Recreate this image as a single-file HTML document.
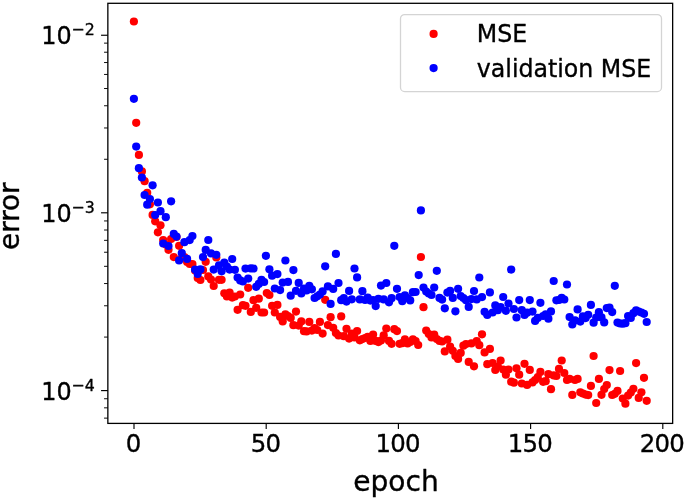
<!DOCTYPE html>
<html lang="en">
<head>
<meta charset="utf-8">
<title>MSE vs epoch</title>
<style>
html,body{margin:0;padding:0;background:#fff;}
body{width:685px;height:501px;overflow:hidden;}
svg{display:block;}
text{font-family:"DejaVu Sans","Liberation Sans",sans-serif;fill:#000;stroke:#000;stroke-width:0.35px;stroke-linejoin:round;}
</style>
</head>
<body>
<svg width="685" height="501" viewBox="0 0 685 501">
<rect x="0" y="0" width="685" height="501" fill="#ffffff"/>
<g fill="#ff0000">
<circle cx="133.9" cy="21.5" r="4.10"/>
<circle cx="136.2" cy="122.8" r="4.10"/>
<circle cx="138.9" cy="154.9" r="4.10"/>
<circle cx="141.9" cy="171.4" r="4.10"/>
<circle cx="144.6" cy="181.2" r="4.10"/>
<circle cx="147.2" cy="192.8" r="4.10"/>
<circle cx="149.9" cy="204.3" r="4.10"/>
<circle cx="152.6" cy="214.9" r="4.10"/>
<circle cx="155.2" cy="221.3" r="4.10"/>
<circle cx="157.9" cy="232.3" r="4.10"/>
<circle cx="160.5" cy="225.3" r="4.10"/>
<circle cx="163.2" cy="240.0" r="4.10"/>
<circle cx="165.8" cy="244.5" r="4.10"/>
<circle cx="168.5" cy="249.8" r="4.10"/>
<circle cx="171.1" cy="239.0" r="4.10"/>
<circle cx="173.8" cy="257.1" r="4.10"/>
<circle cx="176.5" cy="237.0" r="4.10"/>
<circle cx="179.1" cy="245.8" r="4.10"/>
<circle cx="181.8" cy="258.0" r="4.10"/>
<circle cx="184.4" cy="257.0" r="4.10"/>
<circle cx="187.1" cy="262.0" r="4.10"/>
<circle cx="189.7" cy="264.0" r="4.10"/>
<circle cx="192.4" cy="264.0" r="4.10"/>
<circle cx="195.1" cy="270.5" r="4.10"/>
<circle cx="197.7" cy="278.0" r="4.10"/>
<circle cx="200.4" cy="280.0" r="4.10"/>
<circle cx="203.0" cy="270.0" r="4.10"/>
<circle cx="205.7" cy="261.8" r="4.10"/>
<circle cx="208.3" cy="276.4" r="4.10"/>
<circle cx="211.0" cy="279.6" r="4.10"/>
<circle cx="213.7" cy="286.0" r="4.10"/>
<circle cx="216.3" cy="257.5" r="4.10"/>
<circle cx="219.0" cy="279.8" r="4.10"/>
<circle cx="221.6" cy="279.8" r="4.10"/>
<circle cx="224.3" cy="293.3" r="4.10"/>
<circle cx="226.9" cy="296.4" r="4.10"/>
<circle cx="229.6" cy="292.6" r="4.10"/>
<circle cx="232.2" cy="297.6" r="4.10"/>
<circle cx="234.9" cy="296.5" r="4.10"/>
<circle cx="237.6" cy="309.8" r="4.10"/>
<circle cx="240.2" cy="294.5" r="4.10"/>
<circle cx="242.9" cy="305.2" r="4.10"/>
<circle cx="245.5" cy="305.8" r="4.10"/>
<circle cx="248.2" cy="287.8" r="4.10"/>
<circle cx="250.8" cy="311.9" r="4.10"/>
<circle cx="253.5" cy="300.2" r="4.10"/>
<circle cx="256.2" cy="307.8" r="4.10"/>
<circle cx="258.8" cy="298.7" r="4.10"/>
<circle cx="261.5" cy="312.5" r="4.10"/>
<circle cx="264.1" cy="312.5" r="4.10"/>
<circle cx="266.8" cy="293.0" r="4.10"/>
<circle cx="269.4" cy="295.0" r="4.10"/>
<circle cx="272.1" cy="305.8" r="4.10"/>
<circle cx="274.8" cy="312.5" r="4.10"/>
<circle cx="277.4" cy="304.9" r="4.10"/>
<circle cx="280.1" cy="316.9" r="4.10"/>
<circle cx="282.7" cy="321.4" r="4.10"/>
<circle cx="285.4" cy="314.4" r="4.10"/>
<circle cx="288.0" cy="316.0" r="4.10"/>
<circle cx="290.7" cy="317.9" r="4.10"/>
<circle cx="293.4" cy="325.2" r="4.10"/>
<circle cx="296.0" cy="311.6" r="4.10"/>
<circle cx="298.7" cy="325.6" r="4.10"/>
<circle cx="301.3" cy="321.4" r="4.10"/>
<circle cx="304.0" cy="331.2" r="4.10"/>
<circle cx="306.6" cy="331.4" r="4.10"/>
<circle cx="309.3" cy="321.9" r="4.10"/>
<circle cx="311.9" cy="330.6" r="4.10"/>
<circle cx="314.6" cy="328.0" r="4.10"/>
<circle cx="317.3" cy="330.0" r="4.10"/>
<circle cx="319.9" cy="321.9" r="4.10"/>
<circle cx="322.6" cy="333.6" r="4.10"/>
<circle cx="325.2" cy="299.8" r="4.10"/>
<circle cx="327.9" cy="325.1" r="4.10"/>
<circle cx="330.6" cy="317.2" r="4.10"/>
<circle cx="333.2" cy="327.8" r="4.10"/>
<circle cx="335.9" cy="333.0" r="4.10"/>
<circle cx="338.5" cy="335.5" r="4.10"/>
<circle cx="341.2" cy="316.4" r="4.10"/>
<circle cx="343.8" cy="336.2" r="4.10"/>
<circle cx="346.5" cy="328.8" r="4.10"/>
<circle cx="349.1" cy="338.6" r="4.10"/>
<circle cx="351.8" cy="333.7" r="4.10"/>
<circle cx="354.5" cy="337.4" r="4.10"/>
<circle cx="357.1" cy="331.0" r="4.10"/>
<circle cx="359.8" cy="340.3" r="4.10"/>
<circle cx="362.4" cy="339.1" r="4.10"/>
<circle cx="365.1" cy="338.0" r="4.10"/>
<circle cx="367.7" cy="336.8" r="4.10"/>
<circle cx="370.4" cy="340.9" r="4.10"/>
<circle cx="373.1" cy="334.5" r="4.10"/>
<circle cx="375.7" cy="340.9" r="4.10"/>
<circle cx="378.4" cy="342.1" r="4.10"/>
<circle cx="381.0" cy="340.5" r="4.10"/>
<circle cx="383.7" cy="335.4" r="4.10"/>
<circle cx="386.3" cy="328.6" r="4.10"/>
<circle cx="389.0" cy="340.9" r="4.10"/>
<circle cx="391.6" cy="343.8" r="4.10"/>
<circle cx="394.3" cy="329.2" r="4.10"/>
<circle cx="397.0" cy="331.1" r="4.10"/>
<circle cx="399.6" cy="343.8" r="4.10"/>
<circle cx="402.3" cy="343.2" r="4.10"/>
<circle cx="404.9" cy="339.4" r="4.10"/>
<circle cx="407.6" cy="343.5" r="4.10"/>
<circle cx="410.2" cy="342.0" r="4.10"/>
<circle cx="412.9" cy="339.4" r="4.10"/>
<circle cx="415.6" cy="341.0" r="4.10"/>
<circle cx="418.2" cy="345.0" r="4.10"/>
<circle cx="420.9" cy="257.0" r="4.10"/>
<circle cx="423.5" cy="307.2" r="4.10"/>
<circle cx="426.2" cy="330.6" r="4.10"/>
<circle cx="428.8" cy="334.0" r="4.10"/>
<circle cx="431.5" cy="337.4" r="4.10"/>
<circle cx="434.2" cy="334.5" r="4.10"/>
<circle cx="436.8" cy="339.0" r="4.10"/>
<circle cx="439.5" cy="340.9" r="4.10"/>
<circle cx="442.1" cy="341.5" r="4.10"/>
<circle cx="444.8" cy="351.4" r="4.10"/>
<circle cx="447.4" cy="339.7" r="4.10"/>
<circle cx="450.1" cy="346.7" r="4.10"/>
<circle cx="452.8" cy="350.8" r="4.10"/>
<circle cx="455.4" cy="356.1" r="4.10"/>
<circle cx="458.1" cy="358.9" r="4.10"/>
<circle cx="460.7" cy="352.9" r="4.10"/>
<circle cx="463.4" cy="345.7" r="4.10"/>
<circle cx="466.0" cy="344.1" r="4.10"/>
<circle cx="468.7" cy="361.9" r="4.10"/>
<circle cx="471.4" cy="343.4" r="4.10"/>
<circle cx="474.0" cy="366.3" r="4.10"/>
<circle cx="476.7" cy="341.0" r="4.10"/>
<circle cx="479.3" cy="345.2" r="4.10"/>
<circle cx="482.0" cy="334.3" r="4.10"/>
<circle cx="484.6" cy="352.4" r="4.10"/>
<circle cx="487.3" cy="364.2" r="4.10"/>
<circle cx="489.9" cy="348.9" r="4.10"/>
<circle cx="492.6" cy="363.0" r="4.10"/>
<circle cx="495.3" cy="370.0" r="4.10"/>
<circle cx="497.9" cy="366.5" r="4.10"/>
<circle cx="500.6" cy="360.5" r="4.10"/>
<circle cx="503.2" cy="369.5" r="4.10"/>
<circle cx="505.9" cy="374.7" r="4.10"/>
<circle cx="508.5" cy="369.5" r="4.10"/>
<circle cx="511.2" cy="381.7" r="4.10"/>
<circle cx="513.9" cy="382.7" r="4.10"/>
<circle cx="516.5" cy="368.3" r="4.10"/>
<circle cx="519.2" cy="374.7" r="4.10"/>
<circle cx="521.8" cy="383.5" r="4.10"/>
<circle cx="524.5" cy="363.8" r="4.10"/>
<circle cx="527.1" cy="384.9" r="4.10"/>
<circle cx="529.8" cy="369.9" r="4.10"/>
<circle cx="532.5" cy="382.4" r="4.10"/>
<circle cx="535.1" cy="380.0" r="4.10"/>
<circle cx="537.8" cy="377.1" r="4.10"/>
<circle cx="540.4" cy="371.9" r="4.10"/>
<circle cx="543.1" cy="381.8" r="4.10"/>
<circle cx="545.7" cy="381.2" r="4.10"/>
<circle cx="548.4" cy="374.2" r="4.10"/>
<circle cx="551.0" cy="389.2" r="4.10"/>
<circle cx="553.7" cy="375.4" r="4.10"/>
<circle cx="556.4" cy="376.0" r="4.10"/>
<circle cx="559.0" cy="368.9" r="4.10"/>
<circle cx="561.7" cy="360.5" r="4.10"/>
<circle cx="564.3" cy="373.0" r="4.10"/>
<circle cx="567.0" cy="380.0" r="4.10"/>
<circle cx="569.6" cy="378.9" r="4.10"/>
<circle cx="572.3" cy="394.9" r="4.10"/>
<circle cx="575.0" cy="380.0" r="4.10"/>
<circle cx="577.6" cy="378.9" r="4.10"/>
<circle cx="580.3" cy="392.3" r="4.10"/>
<circle cx="582.9" cy="393.5" r="4.10"/>
<circle cx="585.6" cy="394.6" r="4.10"/>
<circle cx="588.2" cy="395.1" r="4.10"/>
<circle cx="590.9" cy="385.9" r="4.10"/>
<circle cx="593.6" cy="356.0" r="4.10"/>
<circle cx="596.2" cy="403.0" r="4.10"/>
<circle cx="598.9" cy="378.9" r="4.10"/>
<circle cx="601.5" cy="394.8" r="4.10"/>
<circle cx="604.2" cy="389.0" r="4.10"/>
<circle cx="606.8" cy="385.0" r="4.10"/>
<circle cx="609.5" cy="370.1" r="4.10"/>
<circle cx="612.2" cy="395.0" r="4.10"/>
<circle cx="614.8" cy="393.8" r="4.10"/>
<circle cx="617.5" cy="390.9" r="4.10"/>
<circle cx="620.1" cy="371.0" r="4.10"/>
<circle cx="622.8" cy="398.5" r="4.10"/>
<circle cx="625.4" cy="403.7" r="4.10"/>
<circle cx="628.1" cy="395.6" r="4.10"/>
<circle cx="630.8" cy="392.6" r="4.10"/>
<circle cx="633.4" cy="388.8" r="4.10"/>
<circle cx="636.1" cy="363.1" r="4.10"/>
<circle cx="638.7" cy="397.9" r="4.10"/>
<circle cx="641.4" cy="392.3" r="4.10"/>
<circle cx="644.0" cy="377.8" r="4.10"/>
<circle cx="646.7" cy="400.8" r="4.10"/>
</g>
<g fill="#0000ff">
<circle cx="133.9" cy="98.8" r="4.10"/>
<circle cx="136.2" cy="146.6" r="4.10"/>
<circle cx="138.9" cy="168.2" r="4.10"/>
<circle cx="141.9" cy="177.5" r="4.10"/>
<circle cx="144.6" cy="195.0" r="4.10"/>
<circle cx="147.2" cy="204.7" r="4.10"/>
<circle cx="149.9" cy="199.0" r="4.10"/>
<circle cx="152.6" cy="185.3" r="4.10"/>
<circle cx="155.2" cy="215.1" r="4.10"/>
<circle cx="157.9" cy="202.5" r="4.10"/>
<circle cx="160.5" cy="211.2" r="4.10"/>
<circle cx="163.2" cy="243.5" r="4.10"/>
<circle cx="165.8" cy="217.2" r="4.10"/>
<circle cx="168.5" cy="246.0" r="4.10"/>
<circle cx="171.1" cy="201.3" r="4.10"/>
<circle cx="173.8" cy="233.9" r="4.10"/>
<circle cx="176.5" cy="236.6" r="4.10"/>
<circle cx="179.1" cy="260.4" r="4.10"/>
<circle cx="181.8" cy="253.0" r="4.10"/>
<circle cx="184.4" cy="242.2" r="4.10"/>
<circle cx="187.1" cy="258.9" r="4.10"/>
<circle cx="189.7" cy="240.1" r="4.10"/>
<circle cx="192.4" cy="236.0" r="4.10"/>
<circle cx="195.1" cy="269.6" r="4.10"/>
<circle cx="197.7" cy="274.0" r="4.10"/>
<circle cx="200.4" cy="269.4" r="4.10"/>
<circle cx="203.0" cy="257.1" r="4.10"/>
<circle cx="205.7" cy="249.9" r="4.10"/>
<circle cx="208.3" cy="240.0" r="4.10"/>
<circle cx="211.0" cy="253.3" r="4.10"/>
<circle cx="213.7" cy="269.6" r="4.10"/>
<circle cx="216.3" cy="254.8" r="4.10"/>
<circle cx="219.0" cy="265.3" r="4.10"/>
<circle cx="221.6" cy="271.3" r="4.10"/>
<circle cx="224.3" cy="262.5" r="4.10"/>
<circle cx="226.9" cy="266.5" r="4.10"/>
<circle cx="229.6" cy="269.6" r="4.10"/>
<circle cx="232.2" cy="259.0" r="4.10"/>
<circle cx="234.9" cy="269.8" r="4.10"/>
<circle cx="237.6" cy="277.5" r="4.10"/>
<circle cx="240.2" cy="280.4" r="4.10"/>
<circle cx="242.9" cy="281.5" r="4.10"/>
<circle cx="245.5" cy="268.6" r="4.10"/>
<circle cx="248.2" cy="278.6" r="4.10"/>
<circle cx="250.8" cy="268.4" r="4.10"/>
<circle cx="253.5" cy="268.5" r="4.10"/>
<circle cx="256.2" cy="286.8" r="4.10"/>
<circle cx="258.8" cy="283.9" r="4.10"/>
<circle cx="261.5" cy="279.8" r="4.10"/>
<circle cx="264.1" cy="282.0" r="4.10"/>
<circle cx="265.9" cy="255.8" r="4.10"/>
<circle cx="269.4" cy="269.3" r="4.10"/>
<circle cx="272.1" cy="275.7" r="4.10"/>
<circle cx="274.8" cy="288.5" r="4.10"/>
<circle cx="277.4" cy="274.1" r="4.10"/>
<circle cx="280.1" cy="290.1" r="4.10"/>
<circle cx="282.7" cy="282.6" r="4.10"/>
<circle cx="285.4" cy="260.5" r="4.10"/>
<circle cx="288.0" cy="281.9" r="4.10"/>
<circle cx="290.7" cy="295.7" r="4.10"/>
<circle cx="293.4" cy="270.1" r="4.10"/>
<circle cx="296.0" cy="290.8" r="4.10"/>
<circle cx="298.7" cy="282.9" r="4.10"/>
<circle cx="301.3" cy="293.4" r="4.10"/>
<circle cx="304.0" cy="288.7" r="4.10"/>
<circle cx="306.6" cy="290.4" r="4.10"/>
<circle cx="309.3" cy="285.8" r="4.10"/>
<circle cx="311.9" cy="289.3" r="4.10"/>
<circle cx="314.6" cy="298.0" r="4.10"/>
<circle cx="317.3" cy="296.3" r="4.10"/>
<circle cx="319.9" cy="294.5" r="4.10"/>
<circle cx="322.6" cy="291.4" r="4.10"/>
<circle cx="325.2" cy="266.3" r="4.10"/>
<circle cx="327.9" cy="286.4" r="4.10"/>
<circle cx="330.6" cy="303.9" r="4.10"/>
<circle cx="333.2" cy="288.9" r="4.10"/>
<circle cx="335.9" cy="253.9" r="4.10"/>
<circle cx="338.5" cy="283.0" r="4.10"/>
<circle cx="341.2" cy="300.2" r="4.10"/>
<circle cx="343.8" cy="298.1" r="4.10"/>
<circle cx="346.5" cy="301.6" r="4.10"/>
<circle cx="349.1" cy="290.9" r="4.10"/>
<circle cx="351.8" cy="299.3" r="4.10"/>
<circle cx="354.5" cy="268.5" r="4.10"/>
<circle cx="357.1" cy="277.4" r="4.10"/>
<circle cx="359.8" cy="299.4" r="4.10"/>
<circle cx="362.4" cy="291.2" r="4.10"/>
<circle cx="365.1" cy="300.0" r="4.10"/>
<circle cx="367.7" cy="297.6" r="4.10"/>
<circle cx="370.4" cy="300.6" r="4.10"/>
<circle cx="373.1" cy="300.0" r="4.10"/>
<circle cx="375.7" cy="306.1" r="4.10"/>
<circle cx="378.4" cy="298.8" r="4.10"/>
<circle cx="381.0" cy="285.6" r="4.10"/>
<circle cx="383.7" cy="299.4" r="4.10"/>
<circle cx="386.3" cy="283.0" r="4.10"/>
<circle cx="389.0" cy="302.3" r="4.10"/>
<circle cx="391.6" cy="298.2" r="4.10"/>
<circle cx="394.3" cy="245.8" r="4.10"/>
<circle cx="397.0" cy="288.8" r="4.10"/>
<circle cx="399.6" cy="297.1" r="4.10"/>
<circle cx="402.3" cy="301.2" r="4.10"/>
<circle cx="404.9" cy="295.4" r="4.10"/>
<circle cx="407.6" cy="298.0" r="4.10"/>
<circle cx="410.2" cy="300.4" r="4.10"/>
<circle cx="412.9" cy="292.2" r="4.10"/>
<circle cx="415.6" cy="292.0" r="4.10"/>
<circle cx="418.7" cy="275.1" r="4.10"/>
<circle cx="420.9" cy="210.4" r="4.10"/>
<circle cx="423.5" cy="287.6" r="4.10"/>
<circle cx="426.2" cy="291.5" r="4.10"/>
<circle cx="428.8" cy="293.5" r="4.10"/>
<circle cx="431.5" cy="295.0" r="4.10"/>
<circle cx="434.2" cy="287.6" r="4.10"/>
<circle cx="436.8" cy="270.8" r="4.10"/>
<circle cx="439.5" cy="297.9" r="4.10"/>
<circle cx="442.1" cy="299.6" r="4.10"/>
<circle cx="444.8" cy="308.3" r="4.10"/>
<circle cx="447.4" cy="292.6" r="4.10"/>
<circle cx="450.1" cy="290.9" r="4.10"/>
<circle cx="452.8" cy="297.9" r="4.10"/>
<circle cx="455.4" cy="311.3" r="4.10"/>
<circle cx="458.1" cy="288.8" r="4.10"/>
<circle cx="460.7" cy="296.0" r="4.10"/>
<circle cx="463.4" cy="298.0" r="4.10"/>
<circle cx="466.0" cy="300.2" r="4.10"/>
<circle cx="468.7" cy="306.9" r="4.10"/>
<circle cx="471.4" cy="299.1" r="4.10"/>
<circle cx="474.0" cy="291.0" r="4.10"/>
<circle cx="476.7" cy="299.4" r="4.10"/>
<circle cx="479.3" cy="277.5" r="4.10"/>
<circle cx="482.0" cy="297.1" r="4.10"/>
<circle cx="484.6" cy="311.8" r="4.10"/>
<circle cx="487.3" cy="314.9" r="4.10"/>
<circle cx="489.9" cy="292.4" r="4.10"/>
<circle cx="492.6" cy="312.5" r="4.10"/>
<circle cx="495.3" cy="305.4" r="4.10"/>
<circle cx="497.9" cy="310.2" r="4.10"/>
<circle cx="500.6" cy="307.1" r="4.10"/>
<circle cx="503.2" cy="297.0" r="4.10"/>
<circle cx="505.9" cy="310.8" r="4.10"/>
<circle cx="508.5" cy="303.6" r="4.10"/>
<circle cx="511.2" cy="269.6" r="4.10"/>
<circle cx="513.9" cy="309.0" r="4.10"/>
<circle cx="516.5" cy="317.5" r="4.10"/>
<circle cx="519.2" cy="300.1" r="4.10"/>
<circle cx="521.8" cy="310.2" r="4.10"/>
<circle cx="524.5" cy="314.9" r="4.10"/>
<circle cx="527.1" cy="312.7" r="4.10"/>
<circle cx="529.8" cy="300.1" r="4.10"/>
<circle cx="532.5" cy="311.6" r="4.10"/>
<circle cx="535.1" cy="320.9" r="4.10"/>
<circle cx="537.8" cy="317.9" r="4.10"/>
<circle cx="540.4" cy="302.8" r="4.10"/>
<circle cx="543.1" cy="316.0" r="4.10"/>
<circle cx="545.7" cy="314.4" r="4.10"/>
<circle cx="548.4" cy="318.7" r="4.10"/>
<circle cx="551.0" cy="311.4" r="4.10"/>
<circle cx="553.7" cy="281.0" r="4.10"/>
<circle cx="556.4" cy="300.3" r="4.10"/>
<circle cx="559.0" cy="300.0" r="4.10"/>
<circle cx="561.7" cy="297.9" r="4.10"/>
<circle cx="564.3" cy="299.5" r="4.10"/>
<circle cx="567.0" cy="284.5" r="4.10"/>
<circle cx="569.6" cy="317.1" r="4.10"/>
<circle cx="572.3" cy="324.5" r="4.10"/>
<circle cx="575.0" cy="320.4" r="4.10"/>
<circle cx="577.6" cy="309.4" r="4.10"/>
<circle cx="580.3" cy="321.6" r="4.10"/>
<circle cx="582.9" cy="316.4" r="4.10"/>
<circle cx="585.6" cy="318.1" r="4.10"/>
<circle cx="588.2" cy="314.8" r="4.10"/>
<circle cx="590.9" cy="304.9" r="4.10"/>
<circle cx="593.6" cy="322.7" r="4.10"/>
<circle cx="596.2" cy="317.5" r="4.10"/>
<circle cx="598.9" cy="312.2" r="4.10"/>
<circle cx="601.5" cy="317.4" r="4.10"/>
<circle cx="604.2" cy="322.4" r="4.10"/>
<circle cx="606.8" cy="308.1" r="4.10"/>
<circle cx="609.5" cy="307.6" r="4.10"/>
<circle cx="612.2" cy="312.1" r="4.10"/>
<circle cx="614.8" cy="285.8" r="4.10"/>
<circle cx="617.5" cy="322.6" r="4.10"/>
<circle cx="620.1" cy="323.5" r="4.10"/>
<circle cx="622.8" cy="323.7" r="4.10"/>
<circle cx="625.4" cy="323.2" r="4.10"/>
<circle cx="628.1" cy="316.1" r="4.10"/>
<circle cx="630.8" cy="317.9" r="4.10"/>
<circle cx="633.4" cy="313.2" r="4.10"/>
<circle cx="636.1" cy="310.3" r="4.10"/>
<circle cx="638.7" cy="311.5" r="4.10"/>
<circle cx="641.4" cy="312.5" r="4.10"/>
<circle cx="644.0" cy="313.8" r="4.10"/>
<circle cx="646.7" cy="322.0" r="4.10"/>
</g>
<g stroke="#000" stroke-width="1.15" fill="none">
<line x1="134.00" y1="423.40" x2="134.00" y2="429.10"/>
<line x1="266.20" y1="423.40" x2="266.20" y2="429.10"/>
<line x1="398.40" y1="423.40" x2="398.40" y2="429.10"/>
<line x1="530.60" y1="423.40" x2="530.60" y2="429.10"/>
<line x1="662.80" y1="423.40" x2="662.80" y2="429.10"/>
<line x1="101.05" y1="35.25" x2="107.85" y2="35.25"/>
<line x1="101.05" y1="212.80" x2="107.85" y2="212.80"/>
<line x1="101.05" y1="390.60" x2="107.85" y2="390.60"/>
</g>
<g stroke="#000" stroke-width="0.95" fill="none">
<line x1="104.05" y1="159.28" x2="107.85" y2="159.28"/>
<line x1="104.05" y1="127.97" x2="107.85" y2="127.97"/>
<line x1="104.05" y1="105.75" x2="107.85" y2="105.75"/>
<line x1="104.05" y1="88.52" x2="107.85" y2="88.52"/>
<line x1="104.05" y1="74.44" x2="107.85" y2="74.44"/>
<line x1="104.05" y1="62.54" x2="107.85" y2="62.54"/>
<line x1="104.05" y1="52.23" x2="107.85" y2="52.23"/>
<line x1="104.05" y1="43.14" x2="107.85" y2="43.14"/>
<line x1="104.05" y1="337.08" x2="107.85" y2="337.08"/>
<line x1="104.05" y1="305.77" x2="107.85" y2="305.77"/>
<line x1="104.05" y1="283.55" x2="107.85" y2="283.55"/>
<line x1="104.05" y1="266.32" x2="107.85" y2="266.32"/>
<line x1="104.05" y1="252.24" x2="107.85" y2="252.24"/>
<line x1="104.05" y1="240.34" x2="107.85" y2="240.34"/>
<line x1="104.05" y1="230.03" x2="107.85" y2="230.03"/>
<line x1="104.05" y1="220.94" x2="107.85" y2="220.94"/>
<line x1="104.05" y1="418.14" x2="107.85" y2="418.14"/>
<line x1="104.05" y1="407.83" x2="107.85" y2="407.83"/>
<line x1="104.05" y1="398.74" x2="107.85" y2="398.74"/>
</g>
<rect x="107.85" y="3.30" width="564.80" height="420.10" fill="none" stroke="#000" stroke-width="1.30"/>
<text transform="translate(133.20,452.00) scale(0.9850,1)" font-size="24.8" text-anchor="middle" letter-spacing="-0.8">0</text>
<text transform="translate(265.40,452.00) scale(0.9850,1)" font-size="24.8" text-anchor="middle" letter-spacing="-0.8">50</text>
<text transform="translate(397.60,452.00) scale(0.9850,1)" font-size="24.8" text-anchor="middle" letter-spacing="-0.8">100</text>
<text transform="translate(529.80,452.00) scale(0.9850,1)" font-size="24.8" text-anchor="middle" letter-spacing="-0.8">150</text>
<text transform="translate(662.00,452.00) scale(0.9850,1)" font-size="24.8" text-anchor="middle" letter-spacing="-0.8">200</text>
<text transform="translate(71.60,43.90) scale(0.9800,1)" font-size="24.4" text-anchor="end">10</text>
<text transform="translate(71.60,34.50) scale(0.9750,1)" font-size="16.2" text-anchor="start">−2</text>
<text transform="translate(71.60,222.40) scale(0.9800,1)" font-size="24.4" text-anchor="end">10</text>
<text transform="translate(71.60,212.90) scale(0.9750,1)" font-size="16.2" text-anchor="start">−3</text>
<text transform="translate(71.60,400.10) scale(0.9800,1)" font-size="24.4" text-anchor="end">10</text>
<text transform="translate(71.60,390.80) scale(0.9750,1)" font-size="16.2" text-anchor="start">−4</text>
<text transform="translate(396.00,490.70) scale(0.9820,1)" font-size="28.6" text-anchor="middle">epoch</text>
<text transform="translate(18.70,216.20) rotate(-90) scale(0.9750,1)" font-size="28.6" text-anchor="middle">error</text>
<rect x="400.50" y="14.60" width="261.00" height="77.00" rx="4.2" ry="4.2" fill="#ffffff" fill-opacity="0.8" stroke="#d4d4d4" stroke-width="1.3"/>
<circle cx="433.6" cy="33.9" r="4.10" fill="#ff0000"/>
<circle cx="433.6" cy="68.1" r="4.10" fill="#0000ff"/>
<text transform="translate(476.80,41.60) scale(0.9870,1)" font-size="24" text-anchor="start">MSE</text>
<text transform="translate(476.80,76.80) scale(0.9870,1)" font-size="24" text-anchor="start">validation MSE</text>
</svg>
</body>
</html>
